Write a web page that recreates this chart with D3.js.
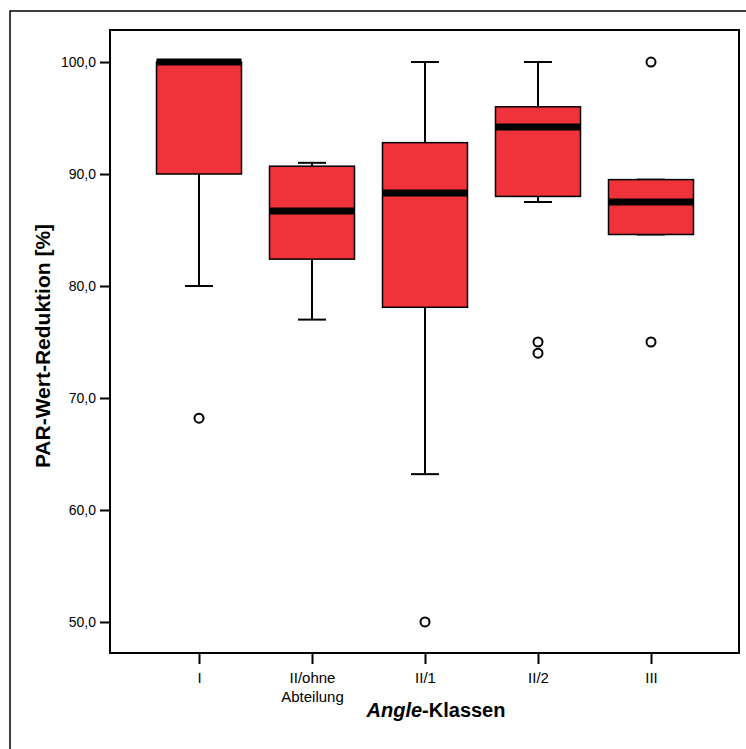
<!DOCTYPE html>
<html>
<head>
<meta charset="utf-8">
<script src="https://cdn.jsdelivr.net/npm/d3@7"></script>
<style>
  body { margin: 0; background: #fff; }
  svg { display: block; font-family: "Liberation Sans", Arial, sans-serif; }
</style>
</head>
<body>
<svg id="chart" width="746" height="749"></svg>
<script>
// data
const categories = ["I", "II/ohne Abteilung", "II/1", "II/2", "III"];
const q1 = [90.0, 82.4, 78.1, 88.0, 84.6];
const median = [100.0, 86.7, 88.3, 94.2, 87.5];
const q3 = [100.0, 90.7, 92.8, 96.0, 89.5];
const whiskerLow = [80.0, 77.0, 63.2, 87.5, 84.6];
const whiskerHigh = [100.0, 91.0, 100.0, 100.0, 89.5];
const outliers = [[68.2], [], [50.0], [75.0, 74.0], [100.0, 75.0]];
const yTicks = [50, 60, 70, 80, 90, 100];

const data = categories.map((c, i) => ({
  cat: c, q1: q1[i], med: median[i], q3: q3[i],
  lo: whiskerLow[i], hi: whiskerHigh[i], out: outliers[i]
}));

const svg = d3.select("#chart");
const plot = { left: 110, right: 739, top: 30, bottom: 653 };

// outer frame (runs off the right and bottom edges)
svg.append("rect")
  .attr("x", 10).attr("y", 11)
  .attr("width", 760).attr("height", 760)
  .attr("fill", "none").attr("stroke", "#000").attr("stroke-width", 1.5);

const x = d3.scalePoint()
  .domain(categories)
  .range([199, 651]);

const y = d3.scaleLinear()
  .domain([47.23, 102.86])
  .range([plot.bottom, plot.top]);

const boxW = 85;
const capW = 28;

// y axis
svg.append("g")
  .attr("transform", `translate(${plot.left},0)`)
  .call(d3.axisLeft(y).tickValues(yTicks).tickSize(10).tickPadding(4)
    .tickFormat(d => d3.format(".1f")(d).replace(".", ",")))
  .call(g => g.select(".domain").remove())
  .call(g => g.selectAll("line").attr("stroke-width", 2))
  .call(g => g.selectAll("text").attr("font-size", 14).attr("fill", "#000")
    .attr("font-family", "Liberation Sans, Arial, sans-serif"));

// x axis
const xg = svg.append("g")
  .attr("transform", `translate(0,${plot.bottom})`)
  .call(d3.axisBottom(x).tickSize(11).tickFormat(""))
  .call(g => g.select(".domain").remove())
  .call(g => g.selectAll("line").attr("stroke-width", 2));

xg.selectAll(".tick").each(function(d) {
  const words = d === "II/ohne Abteilung" ? ["II/ohne", "Abteilung"] : [d];
  const t = d3.select(this).append("text")
    .attr("fill", "#000").attr("font-size", 15)
    .attr("font-family", "Liberation Sans, Arial, sans-serif")
    .attr("text-anchor", "middle");
  words.forEach((w, i) => t.append("tspan").attr("x", 0).attr("y", 30 + i * 19).text(w));
});

// plot frame
svg.append("rect")
  .attr("x", plot.left).attr("y", plot.top)
  .attr("width", plot.right - plot.left).attr("height", plot.bottom - plot.top)
  .attr("fill", "none").attr("stroke", "#000").attr("stroke-width", 2);

// boxes
const boxes = svg.append("g").selectAll("g").data(data).join("g")
  .attr("transform", d => `translate(${x(d.cat)},0)`);

boxes.append("line")
  .attr("x1", 0).attr("x2", 0)
  .attr("y1", d => y(d.lo)).attr("y2", d => y(d.hi))
  .attr("stroke", "#000").attr("stroke-width", 2);

boxes.selectAll(".cap").data(d => [d.lo, d.hi]).join("line")
  .attr("class", "cap")
  .attr("x1", -capW / 2).attr("x2", capW / 2)
  .attr("y1", v => y(v)).attr("y2", v => y(v))
  .attr("stroke", "#000").attr("stroke-width", 2);

boxes.append("rect")
  .attr("x", -boxW / 2).attr("width", boxW)
  .attr("y", d => y(d.q3)).attr("height", d => y(d.q1) - y(d.q3))
  .attr("fill", "#F0333A").attr("stroke", "#000").attr("stroke-width", 1.5);

boxes.append("line")
  .attr("x1", -boxW / 2).attr("x2", boxW / 2)
  .attr("y1", d => y(d.med)).attr("y2", d => y(d.med))
  .attr("stroke", "#000").attr("stroke-width", 7);

boxes.selectAll(".out").data(d => d.out).join("circle")
  .attr("class", "out")
  .attr("cx", 0).attr("cy", v => y(v)).attr("r", 4.5)
  .attr("fill", "#fff").attr("stroke", "#000").attr("stroke-width", 2);

// axis titles
const xt = svg.append("text")
  .attr("x", 436).attr("y", 717)
  .attr("text-anchor", "middle").attr("font-size", 20).attr("font-weight", "bold");
xt.append("tspan").attr("font-style", "italic").text("Angle");
xt.append("tspan").text("-Klassen");

svg.append("text")
  .attr("transform", "translate(50,346) rotate(-90)")
  .attr("text-anchor", "middle").attr("font-size", 21).attr("font-weight", "bold")
  .text("PAR-Wert-Reduktion [%]");
</script>
</body>
</html>
